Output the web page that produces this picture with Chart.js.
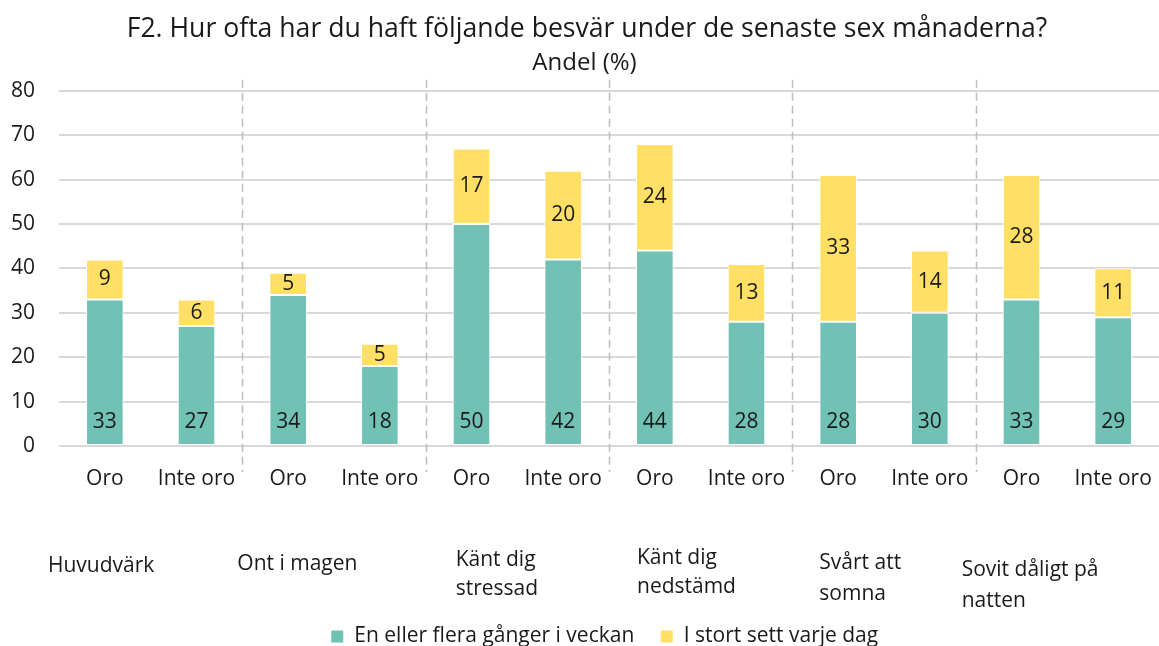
<!DOCTYPE html>
<html>
<head>
<meta charset="utf-8">
<script src="https://cdn.jsdelivr.net/npm/chart.js@4"></script>
<style>
html,body{margin:0;padding:0;background:#fff;}
#wrap{width:1159px;height:646px;position:relative;}
</style>
</head>
<body>
<div id="wrap"><canvas id="c" width="1159" height="646"></canvas></div>
<script>
const categories = ["Oro","Inte oro","Oro","Inte oro","Oro","Inte oro","Oro","Inte oro","Oro","Inte oro","Oro","Inte oro"];
const groups = [["Huvudvärk"],["Ont i magen"],["Känt dig","stressad"],["Känt dig","nedstämd"],["Svårt att","somna"],["Sovit dåligt på","natten"]];
const weekly = [33,27,34,18,50,42,44,28,28,30,33,29];
const daily = [9,6,5,5,17,20,24,13,33,14,28,11];
const seriesNames = ["En eller flera gånger i veckan","I stort sett varje dag"];
const yTicks = [0,10,20,30,40,50,60,70,80];

const FONT = "'Open Sans', 'Noto Sans', sans-serif";
const TXT = '#1a1a1a';
const TEAL = '#71C2B4';
const YELLOW = '#FFDF66';
const FS = 21;

// group label layout (offset from group start pixel, line y positions)
const groupLabelLayout = [
  {dx:-11, y:[566]},
  {dx:-5, y:[564]},
  {dx:30, y:[560,589]},
  {dx:28, y:[558,587]},
  {dx:27, y:[563,594]},
  {dx:-14, y:[570,601]}
];

function shiftBox(box, dx){ if (box){ box.left += dx; box.right += dx; } }

const overlay = {
  id:'overlay',
  afterLayout(chart){
    shiftBox(chart.legend, 25);
    shiftBox(chart.titleBlock, 7.5);
    const sub = chart.boxes.find(b => b !== chart.titleBlock && b.options && b.options.text === 'Andel (%)');
    shiftBox(sub, 5);
  },
  afterDatasetsDraw(chart){
    const ctx = chart.ctx;
    const xs = chart.scales.x, ys = chart.scales.y;
    const ca = chart.chartArea;
    ctx.save();
    // separators
    ctx.strokeStyle = '#bdbdbd';
    ctx.lineWidth = 1.5;
    ctx.setLineDash([8,5]);
    for(let g=1; g<groups.length; g++){
      const x = Math.round((xs.getPixelForValue(2*g-1)+xs.getPixelForValue(2*g))/2)+0.5;
      ctx.beginPath();
      ctx.moveTo(x, ca.top-11);
      ctx.lineTo(x, ca.bottom+26);
      ctx.stroke();
    }
    ctx.setLineDash([]);
    // data labels
    ctx.fillStyle = TXT;
    ctx.font = FS + 'px ' + FONT;
    ctx.textAlign = 'center';
    ctx.textBaseline = 'middle';
    const m0 = chart.getDatasetMeta(0), m1 = chart.getDatasetMeta(1);
    m0.data.forEach((el,i)=>{
      ctx.fillText(String(weekly[i]), el.x, ys.getPixelForValue(0)-24);
    });
    m1.data.forEach((el,i)=>{
      ctx.fillText(String(daily[i]), el.x, (el.y+el.base)/2);
    });
    // group labels
    ctx.textAlign = 'left';
    groups.forEach((lines,g)=>{
      const start = xs.getPixelForValue(2*g) - (xs.getPixelForValue(1)-xs.getPixelForValue(0))/2;
      const L = groupLabelLayout[g];
      lines.forEach((t,k)=>{ ctx.fillText(t, start+L.dx, L.y[k]); });
    });
    ctx.restore();
  }
};

new Chart(document.getElementById('c'), {
  type:'bar',
  data:{
    labels:categories,
    datasets:[
      {label:seriesNames[0], data:weekly, backgroundColor:TEAL, borderColor:'#ffffff', borderWidth:1, borderSkipped:false, barPercentage:0.82, categoryPercentage:0.5},
      {label:seriesNames[1], data:daily, backgroundColor:YELLOW, borderColor:'#ffffff', borderWidth:1, borderSkipped:false, barPercentage:0.82, categoryPercentage:0.5}
    ]
  },
  options:{
    responsive:false,
    animation:false,
    layout:{padding:{left:0,right:0,top:0,bottom:0}},
    scales:{
      x:{
        stacked:true,
        grid:{display:true, drawOnChartArea:false, drawTicks:true, tickLength:20, color:'rgba(0,0,0,0)'},
        border:{display:false},
        ticks:{color:TXT, font:{family:FONT,size:FS}, padding:0, maxRotation:0, autoSkip:false},
        afterFit(s){ s.height = 154; }
      },
      y:{
        stacked:true,
        min:0, max:80,
        afterBuildTicks(s){ s.ticks = yTicks.map(v=>({value:v})); },
        grid:{color:'#d9d9d9', lineWidth:2, drawTicks:false},
        border:{display:false},
        ticks:{color:TXT, font:{family:FONT,size:FS}, padding:24},
        afterFit(s){ s.width = 59; }
      }
    },
    plugins:{
      title:{display:true, text:'F2. Hur ofta har du haft följande besvär under de senaste sex månaderna?', color:TXT, font:{family:FONT,size:26.6,weight:'normal'}, padding:{top:13,bottom:2}},
      subtitle:{display:true, text:'Andel (%)', color:TXT, font:{family:FONT,size:24,weight:'normal'}, padding:{top:2,bottom:13}},
      legend:{position:'bottom', maxHeight:46, labels:{color:TXT, font:{family:FONT,size:FS}, boxWidth:13, boxHeight:13, padding:26, useBorderRadius:false}},
      tooltip:{enabled:false}
    }
  },
  plugins:[overlay]
});
</script>
</body>
</html>
